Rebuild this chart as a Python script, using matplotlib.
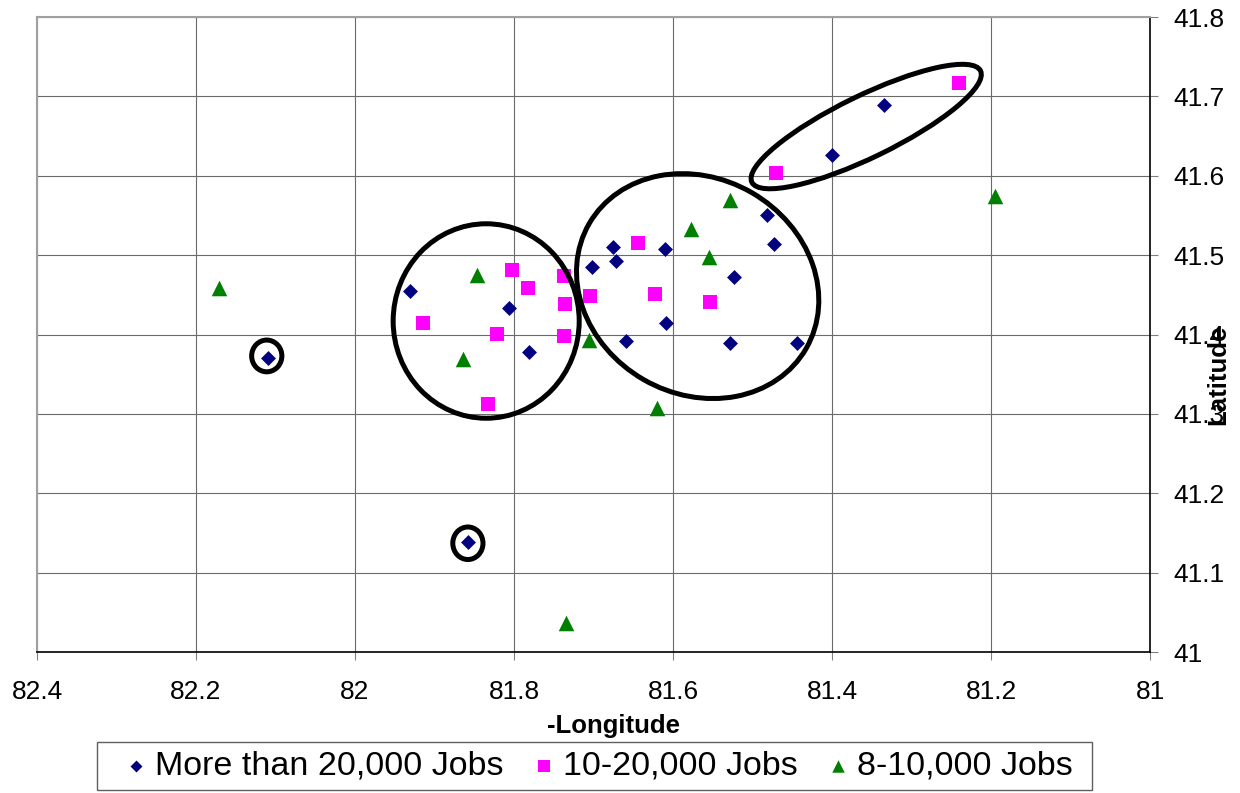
import matplotlib
matplotlib.use("Agg")
import matplotlib.pyplot as plt
from matplotlib.patches import Ellipse, Rectangle
from matplotlib.ticker import MultipleLocator, FuncFormatter

plt.rcParams['font.family'] = ['Liberation Sans', 'DejaVu Sans']

# Employment centres: (-longitude, latitude)
big_lon = [82.109, 81.858, 81.931, 81.806, 81.781, 81.676, 81.672, 81.702, 81.610,
           81.523, 81.482, 81.473, 81.609, 81.659, 81.528, 81.444, 81.400, 81.335]
big_lat = [41.371, 41.139, 41.455, 41.433, 41.378, 41.510, 41.493, 41.485, 41.508,
           41.473, 41.551, 41.514, 41.415, 41.392, 41.389, 41.389, 41.626, 41.689]

mid_lon = [81.802, 81.783, 81.737, 81.736, 81.737, 81.915, 81.822, 81.833, 81.644,
           81.704, 81.623, 81.553, 81.471, 81.240]
mid_lat = [41.481, 41.459, 41.474, 41.438, 41.398, 41.415, 41.401, 41.313, 41.515,
           41.449, 41.451, 41.441, 41.604, 41.717]

small_lon = [82.171, 81.847, 81.864, 81.706, 81.528, 81.577, 81.555, 81.620, 81.195, 81.735]
small_lat = [41.459, 41.475, 41.369, 41.393, 41.570, 41.533, 41.498, 41.307, 41.574, 41.036]

series_names = ["More than 20,000 Jobs", "10-20,000 Jobs", "8-10,000 Jobs"]

# Cluster outlines: centre lon, centre lat, width, height, angle
clusters = [
    (82.111, 41.373, 0.038, 0.040, 0),
    (81.858, 41.137, 0.038, 0.041, 0),
    (81.835, 41.417, 0.234, 0.245, 0),
    (81.569, 41.461, 0.315, 0.272, 30),
    (81.357, 41.662, 0.320, 0.078, -26),
]

fig = plt.figure(figsize=(12.4, 7.93), dpi=100)
ax = fig.add_axes([0.02984, 0.1778, 0.92742 - 0.02984, 0.97856 - 0.1778])

ax.scatter(big_lon, big_lat, marker='D', s=7.6**2, color='#000080', linewidths=0,
           label=series_names[0], zorder=3)
ax.scatter(mid_lon, mid_lat, marker='s', s=10.5**2, color='#FF00FF', linewidths=0,
           label=series_names[1], zorder=3)
ax.scatter(small_lon, small_lat, marker='^', s=11.2**2, color='#008000', linewidths=0,
           label=series_names[2], zorder=3)

for cx, cy, w, h, ang in clusters:
    ax.add_patch(Ellipse((cx, cy), w, h, angle=ang, fill=False, edgecolor='black',
                         linewidth=3.6, zorder=4))

ax.set_xlim(82.4, 81.0)
ax.set_ylim(41.0, 41.8)
ax.xaxis.set_major_locator(MultipleLocator(0.2))
ax.yaxis.set_major_locator(MultipleLocator(0.1))
fmt = FuncFormatter(lambda v, p: f"{round(v, 2):g}")
ax.xaxis.set_major_formatter(fmt)
ax.yaxis.set_major_formatter(fmt)

ax.yaxis.tick_right()
ax.grid(True, color='#6a6a6a', linewidth=0.8)
ax.set_axisbelow(True)
ax.tick_params(axis='both', direction='out', length=5.5, width=0.8, color='#808080',
               labelsize=19)
ax.tick_params(axis='x', pad=15)
ax.tick_params(axis='y', pad=11)

for side in ('top', 'left'):
    ax.spines[side].set_color('#a0a0a0')
    ax.spines[side].set_linewidth(1.5)
for side in ('bottom', 'right'):
    ax.spines[side].set_color('black')
    ax.spines[side].set_linewidth(1.2)

ax.set_xlabel("-Longitude", fontsize=18.5, fontweight='bold')
ax.xaxis.set_label_coords((613.5 - 37) / 1113, (652 - 733) / 635)
ax.xaxis.label.set_va('baseline')

ax.yaxis.set_label_position('right')
ax.set_ylabel("Latitude", fontsize=18.5, fontweight='bold', rotation=90)
ax.yaxis.set_label_coords((1218 - 37) / 1113, (652 - 375) / 635)
ax.yaxis.label.set_va('center')
ax.yaxis.label.set_ha('center')

leg = fig.legend(loc='center', bbox_to_anchor=(600 / 1240, 1 - 766 / 793), ncol=3,
                 frameon=False, fontsize=24.5, markerscale=0.8, handlelength=0.5,
                 handletextpad=0.3, columnspacing=0.95, borderpad=0.0)

fig.patches.append(Rectangle((97 / 1240, 1 - 790 / 793), (1092 - 97) / 1240, 48 / 793,
                             transform=fig.transFigure, fill=False,
                             edgecolor='#606060', linewidth=1.0))

fig.savefig("out.png", dpi=100)
